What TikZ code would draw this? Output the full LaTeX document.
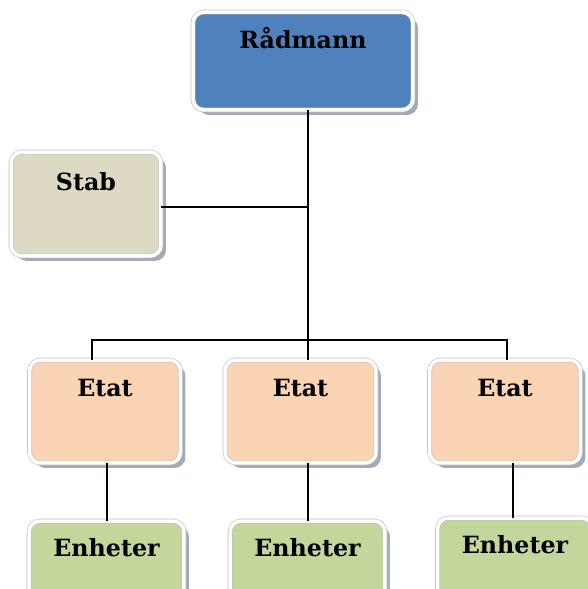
\documentclass[tikz,border=0pt]{standalone}
\usepackage{fontspec}
\setmainfont{DejaVu Serif}
\usepackage{xcolor}
\usetikzlibrary{shadows}
\definecolor{radblue}{HTML}{4F81BD}
\definecolor{stabfill}{HTML}{DDD9C3}
\definecolor{etatfill}{HTML}{FBD4B4}
\definecolor{enhfill}{HTML}{C3D69B}
\definecolor{shadegray}{HTML}{8C96A8}

\begin{document}
\begin{tikzpicture}[x=0.02cm,y=-0.02cm,
  unit/.style={rectangle,rounded corners=0.22cm,draw=black!25,double=white,double distance=0.07cm,line width=0.35pt,
    drop shadow={shadow xshift=0.1cm,shadow yshift=-0.1cm,fill=shadegray,opacity=0.8},
    inner xsep=0pt,inner ysep=0pt,text height=0.72cm,font=\bfseries\fontsize{13.5}{15}\selectfont},
  link/.style={draw=black,line width=0.6pt}]
 \clip (0,0) rectangle (588,589);
 \fill[white] (0,0) rectangle (588,589);
 \node[unit,fill=radblue,minimum width=4.4cm,text depth=1.24cm] (radmann) at (303,61) {Rådmann};
 \node[unit,fill=stabfill,minimum width=3.0cm,text height=0.76cm,text depth=1.32cm] (stab) at (86,204) {Stab};
 \foreach \n/\x in {1/105,2/300.5,3/505}{\node[unit,fill=etatfill,minimum width=3.02cm,text depth=1.34cm] (etat\n) at (\x,411.5) {Etat};}
 \foreach \n/\x/\y in {1/106.5/564,2/307.5/564,3/515/561}{\node[unit,fill=enhfill,minimum width=3.1cm,text height=0.70cm,text depth=1.02cm] (enheter\n) at (\x,\y) {Enheter};}
 % trunk and branches
 \coordinate (hub) at (308,340);
 \coordinate (stabin) at (308,207);
 \coordinate (barL) at (92,340);
 \coordinate (barR) at (507,340);
 \draw[link] (radmann.south -| hub) -- (hub |- etat2.north);
 \draw[link] (stab.east |- stabin) -- (stabin);
 \draw[link] (barL |- etat1.north) -- (barL) -- (barR) -- (barR |- etat3.north);
 \foreach \n/\x in {1/107,2/308,3/513}{
  \coordinate (d\n) at (\x,0);
  \draw[link] (etat\n.south -| d\n) -- (enheter\n.north -| d\n);}
\end{tikzpicture}
\end{document}
